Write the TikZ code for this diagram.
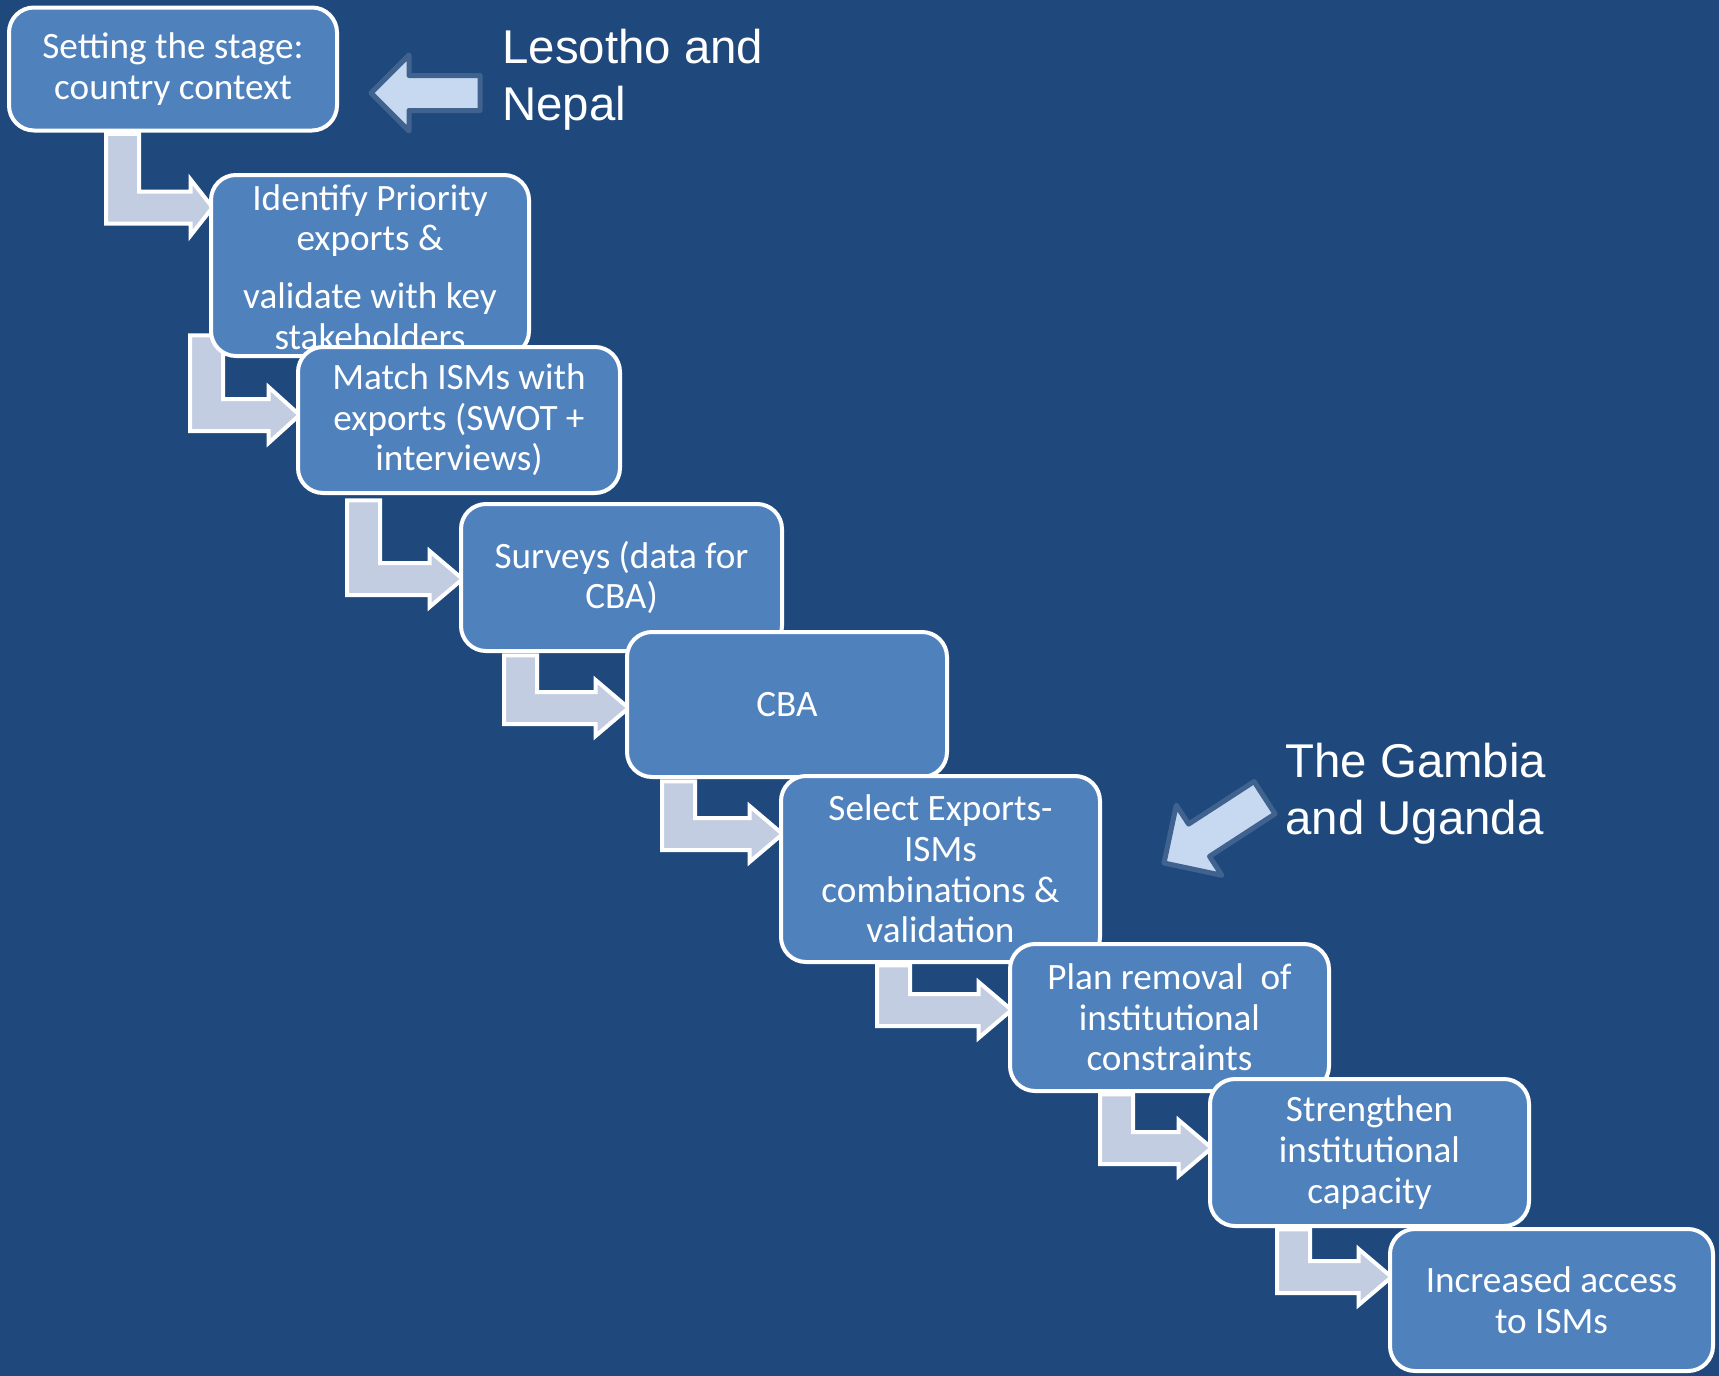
\documentclass[tikz,border=0pt]{standalone}
\usepackage{fontspec}
\setmainfont{Carlito}
\newfontfamily\calloutfamily{Liberation Sans}
\usetikzlibrary{calc}

\definecolor{slidebg}{HTML}{1F497D}
\definecolor{boxblue}{HTML}{4F81BD}
\definecolor{elbowfill}{HTML}{C3CDE1}
\definecolor{pointerfill}{HTML}{C6D9F1}
\definecolor{pointeredge}{HTML}{40628F}

\newcommand\boxfont{\fontsize{18.6}{20.3}\selectfont}
\newcommand\calloutfont{\calloutfamily\fontsize{23.7}{28.5}\selectfont}

\tikzset{
  stepbox/.style={draw=white, line width=2pt, fill=boxblue, rounded corners=12.5pt,
    text=white, align=center, inner sep=0pt, font=\boxfont},
  steptext/.style={text=white, align=center, inner sep=0pt, font=\boxfont},
  elbowarrow/.style={draw=white, line width=2pt, fill=elbowfill, line join=miter},
  pointerstyle/.style={draw=pointeredge, line width=2.5pt, fill=pointerfill, line join=round},
  callout/.style={text=white, align=left, inner sep=0pt, font=\calloutfont},
}

% bent arrow from one step down into the next one
% #1 from box, #2 to box, #3 stem left x, #4 stem top offset, #5 bar centre y, #6 head length
\newcommand\elbow[6]{%
  \coordinate (#1-#2-top) at ($(#3,0 |- #1.south)+(0,#4)$);
  \coordinate (#1-#2-tip) at ($(#2.west |- 0,#5)+(2,0)$);
  \draw[elbowarrow] ($(#1-#2-top)+(2,0)$) -- ($(#1-#2-top)+(35,0)$)
    -- (#3+35,#5-16) -- ($(#1-#2-tip)+(-#6,-16)$) -- ($(#1-#2-tip)+(-#6,-28)$)
    -- (#1-#2-tip) -- ($(#1-#2-tip)+(-#6,28)$) -- ($(#1-#2-tip)+(-#6,16)$)
    -- (#3+2,#5+16) -- cycle;}

% block arrow pointing at the steps, tip at (#1,#2), turned by #3, sized by #4
\newcommand\pointer[4]{%
  \draw[pointerstyle, shift={(#1,#2)}, rotate=#3, scale=#4]
    (0,0) -- (38,-38) -- (38,-17.5) -- (109,-17.5) -- (109,17.5) -- (38,17.5) -- (38,38) -- cycle;}

\begin{document}
\begin{tikzpicture}[x=0.5pt,y=-0.5pt]
  \path[fill=slidebg, use as bounding box] (0,0) rectangle (1719,1376);

  % step boxes (placed first so the arrows can refer to them)
  \path
    node[minimum width=164pt, minimum height=61.5pt, inner sep=0pt] (b1) at (173,69) {}
    node[minimum width=159pt, minimum height=90.5pt, inner sep=0pt] (b2) at (370,265.5) {}
    node[minimum width=161pt, minimum height=73pt, inner sep=0pt] (b3) at (459,420) {}
    node[minimum width=160.5pt, minimum height=73.5pt, inner sep=0pt] (b4) at (621.5,577.5) {}
    node[minimum width=160pt, minimum height=72.5pt, inner sep=0pt] (b5) at (787,704.5) {}
    node[minimum width=159.5pt, minimum height=93pt, inner sep=0pt] (b6) at (940.5,869) {}
    node[minimum width=159.5pt, minimum height=73.5pt, inner sep=0pt] (b7) at (1169.5,1017.5) {}
    node[minimum width=159.5pt, minimum height=73.5pt, inner sep=0pt] (b8) at (1369.5,1152.5) {}
    node[minimum width=161.5pt, minimum height=71pt, inner sep=0pt] (b9) at (1551.5,1300) {};

  % bent arrows, drawn beneath the boxes
  \elbow{b1}{b2}{104}{3}{207.5}{22}
  \elbow{b2}{b3}{188}{-21}{415}{31}
  \elbow{b3}{b4}{345}{7}{579}{33}
  \elbow{b4}{b5}{502}{4}{708}{33}
  \elbow{b5}{b6}{660}{4}{834}{33}
  \elbow{b6}{b7}{875}{3}{1010}{33}
  \elbow{b7}{b8}{1098}{3}{1148}{33}
  \elbow{b8}{b9}{1275}{3}{1277}{33}

  % the boxes themselves, each one over the one before
  \node[stepbox, minimum width=164pt, minimum height=61.5pt] (s1) at (b1) {Setting the stage:\\country context};
  \node[stepbox, minimum width=159pt, minimum height=90.5pt] (s2) at (b2) {};
  \node[steptext, anchor=north] (s2text) at (370,184) {Identify Priority\\exports \&\\[8.5pt]validate with key\\stakeholders};
  \node[stepbox, minimum width=161pt, minimum height=73pt] (s3) at (b3) {Match ISMs with\\exports (SWOT +\\interviews)};
  \node[stepbox, minimum width=160.5pt, minimum height=73.5pt] (s4) at (b4) {Surveys (data for\\CBA)};
  \node[stepbox, minimum width=160pt, minimum height=72.5pt] (s5) at (b5) {CBA};
  \node[stepbox, minimum width=159.5pt, minimum height=93pt] (s6) at (b6) {Select Exports-\\ISMs\\combinations \&\\validation};
  \node[stepbox, minimum width=159.5pt, minimum height=73.5pt] (s7) at (b7) {Plan removal~~of\\institutional\\constraints};
  \node[stepbox, minimum width=159.5pt, minimum height=73.5pt] (s8) at (b8) {Strengthen\\institutional\\capacity};
  \node[stepbox, minimum width=161.5pt, minimum height=71pt] (s9) at (b9) {Increased access\\to ISMs};

  % country callouts
  \pointer{371}{93}{0}{1}
  \node[callout, anchor=north west] (lesotho) at (502,29) {Lesotho and\\Nepal};
  \pointer{1164}{863}{33}{1.1}
  \node[callout, anchor=north west] (gambia) at (1285,743) {The Gambia\\and Uganda};
\end{tikzpicture}
\end{document}
